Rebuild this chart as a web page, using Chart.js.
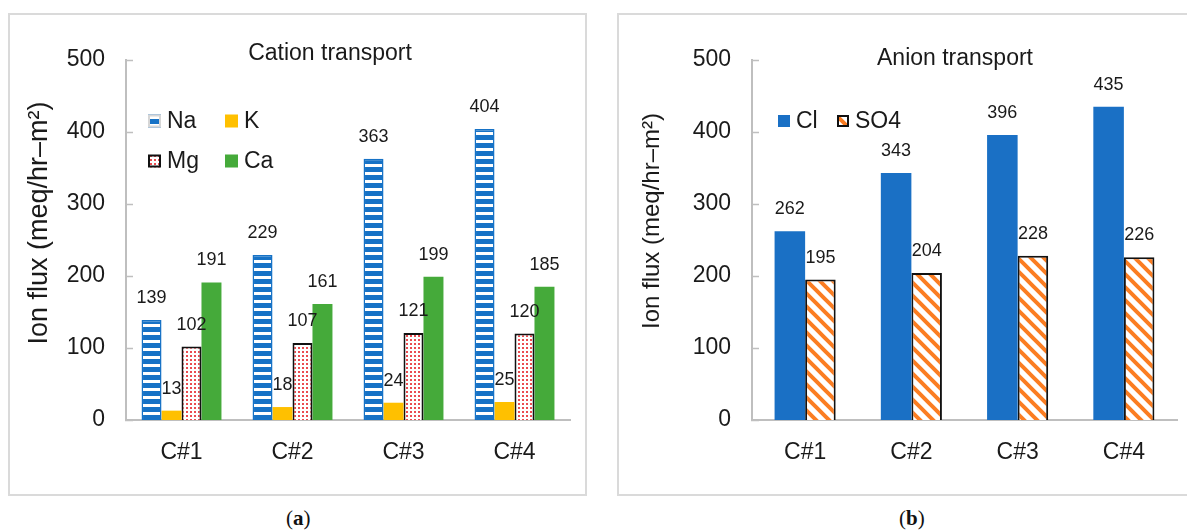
<!DOCTYPE html>
<html>
<head>
<meta charset="utf-8">
<script src="https://cdn.jsdelivr.net/npm/chart.js@4"></script>
<style>
  body { margin: 0; background: #fff; font-family: "Liberation Sans", Arial, sans-serif; }
  .box { position: absolute; border: 2px solid #dadada; }
  .box canvas { position: absolute; left: 0; top: 0; }
  .cap { position: absolute; font-family: "Liberation Serif", "Times New Roman", serif; font-size: 21px; color: #111; }
</style>
</head>
<body>
<div class="box" id="boxA" style="left:8px; top:13px; width:575px; height:479px;"><canvas id="chartA" width="575" height="479"></canvas></div>
<div class="box" id="boxB" style="left:617px; top:13px; width:580px; height:479px;"><canvas id="chartB" width="568" height="479"></canvas></div>
<div class="cap" style="left:286px; top:506px;">(<b>a</b>)</div>
<div class="cap" style="left:899px; top:506px;">(<b>b</b>)</div>

<script>
// data
var categories = ['C#1', 'C#2', 'C#3', 'C#4'];
var naValues = [139, 229, 363, 404];
var kValues = [13, 18, 24, 25];
var mgValues = [102, 107, 121, 120];
var caValues = [191, 161, 199, 185];
var clValues = [262, 343, 396, 435];
var so4Values = [195, 204, 228, 226];
var yTicks = [0, 100, 200, 300, 400, 500];

Chart.defaults.font.family = '"Liberation Sans", Arial, sans-serif';
Chart.defaults.color = '#1a1a1a';

// fill patterns
function makePattern(w, h, draw) {
  var c = document.createElement('canvas');
  c.width = w; c.height = h;
  var g = c.getContext('2d');
  draw(g, w, h);
  return c.getContext('2d').createPattern(c, 'repeat');
}
var naFill = makePattern(8, 8, function (g) {
  g.fillStyle = '#1672c6'; g.fillRect(0, 0, 8, 5);
  g.fillStyle = '#ffffff'; g.fillRect(0, 5, 8, 3);
});
var mgFill = makePattern(4, 4, function (g) {
  g.fillStyle = '#ffffff'; g.fillRect(0, 0, 4, 4);
  g.fillStyle = '#ea4c50';
  g.fillRect(0, 0, 2, 2);
});
var so4Fill = makePattern(13, 13, function (g) {
  g.fillStyle = '#ffffff'; g.fillRect(0, 0, 13, 13);
  g.strokeStyle = '#fb7d22'; g.lineWidth = 4;
  g.beginPath();
  g.moveTo(-3, -3); g.lineTo(16, 16);
  g.moveTo(-3, 10); g.lineTo(3, 16);
  g.moveTo(10, -3); g.lineTo(16, 3);
  g.stroke();
});

// value labels above every bar
var barLabels = {
  id: 'barLabels',
  afterDatasetsDraw: function (chart) {
    var ctx = chart.ctx;
    ctx.save();
    ctx.font = '18px "Liberation Sans", Arial';
    ctx.fillStyle = '#1a1a1a';
    ctx.textAlign = 'center';
    ctx.textBaseline = 'middle';
    chart.data.datasets.forEach(function (ds, i) {
      chart.getDatasetMeta(i).data.forEach(function (bar, j) {
        ctx.fillText(String(ds.data[j]), bar.x, bar.y - 22);
      });
    });
    ctx.restore();
  }
};

// Excel style inside tick marks on the y axis
var innerTicks = {
  id: 'innerTicks',
  afterDraw: function (chart) {
    var s = chart.scales.y, ctx = chart.ctx;
    ctx.save();
    ctx.strokeStyle = '#bfbfbf';
    ctx.lineWidth = 1.5;
    s.ticks.forEach(function (t) {
      var y = Math.round(s.getPixelForValue(t.value)) + 0.5;
      ctx.beginPath();
      ctx.moveTo(s.right - 1, y);
      ctx.lineTo(s.right + 7, y);
      ctx.stroke();
    });
    ctx.restore();
  }
};

// title, rotated y title and the little legend inside the plot
var decor = {
  id: 'decor',
  afterDraw: function (chart, args, opts) {
    var ctx = chart.ctx;
    ctx.save();
    ctx.fillStyle = '#1a1a1a';
    ctx.textBaseline = 'middle';

    ctx.font = opts.titleSize + 'px "Liberation Sans", Arial';
    ctx.textAlign = 'center';
    ctx.fillText(opts.title, opts.titleX, opts.titleY);

    ctx.save();
    ctx.translate(opts.yTitleX, opts.yTitleY);
    ctx.rotate(-Math.PI / 2);
    ctx.font = opts.yTitleSize + 'px "Liberation Sans", Arial';
    ctx.fillText('Ion flux (meq/hr\u2013m\u00b2)', 0, 0);
    ctx.restore();

    ctx.font = opts.legendSize + 'px "Liberation Sans", Arial';
    ctx.textAlign = 'left';
    opts.legend.forEach(function (it) {
      var ds = chart.data.datasets[it.index];
      var b = it.box;
      ctx.fillStyle = ds.backgroundColor;
      ctx.fillRect(it.x, it.y - b / 2, b, b);
      if (ds.borderWidth) {
        ctx.strokeStyle = ds.legendStroke || ds.borderColor;
        ctx.lineWidth = 2;
        ctx.strokeRect(it.x + 1, it.y - b / 2 + 1, b - 2, b - 2);
      }
      ctx.fillStyle = '#1a1a1a';
      ctx.fillText(ds.label, it.x + b + 6, it.y + 1);
    });
    ctx.restore();
  }
};

function axes(leftWidth, tickPad, tickSize, catSize) {
  return {
    x: {
      grid: { display: false, drawTicks: false },
      border: { display: true, color: '#bfbfbf', width: 2 },
      ticks: { padding: 19, font: { size: catSize }, color: '#1a1a1a' },
      afterFit: function (s) { s.height = 74; }
    },
    y: {
      min: 0, max: 500,
      grid: { display: false, drawTicks: false },
      border: { display: true, color: '#bfbfbf', width: 2 },
      afterBuildTicks: function (s) { s.ticks = yTicks.map(function (v) { return { value: v }; }); },
      ticks: { padding: tickPad, font: { size: tickSize }, color: '#1a1a1a' },
      afterFit: function (s) { s.width = leftWidth; }
    }
  };
}

new Chart(document.getElementById('chartA'), {
  type: 'bar',
  data: {
    labels: categories,
    datasets: [
      { label: 'Na', data: naValues, backgroundColor: naFill, borderColor: '#1672c6', borderWidth: 1.5, legendStroke: '#d6d6d6' },
      { label: 'K', data: kValues, backgroundColor: '#ffc000', borderWidth: 0 },
      { label: 'Mg', data: mgValues, backgroundColor: mgFill, borderColor: '#111111', borderWidth: 2 },
      { label: 'Ca', data: caValues, backgroundColor: '#45aa3a', borderWidth: 0 }
    ]
  },
  options: {
    responsive: false,
    animation: false,
    layout: { padding: { left: 0, right: 15, top: 45, bottom: 0 } },
    datasets: { bar: { categoryPercentage: 0.72, barPercentage: 1 } },
    scales: axes(116, 21, 23, 23),
    plugins: {
      legend: { display: false },
      tooltip: { enabled: false },
      decor: {
        title: 'Cation transport', titleX: 320, titleY: 39, titleSize: 23,
        yTitleX: 30, yTitleY: 208, yTitleSize: 27,
        legendSize: 23,
        legend: [
          { index: 0, x: 138, y: 106, box: 13 },
          { index: 1, x: 215, y: 106, box: 13 },
          { index: 2, x: 138, y: 146, box: 13 },
          { index: 3, x: 215, y: 146, box: 13 }
        ]
      }
    }
  },
  plugins: [barLabels, innerTicks, decor]
});

new Chart(document.getElementById('chartB'), {
  type: 'bar',
  data: {
    labels: categories,
    datasets: [
      { label: 'Cl', data: clValues, backgroundColor: '#1a70c5', borderWidth: 0 },
      { label: 'SO4', data: so4Values, backgroundColor: so4Fill, borderColor: '#111111', borderWidth: 2 }
    ]
  },
  options: {
    responsive: false,
    animation: false,
    layout: { padding: { left: 0, right: 10, top: 45, bottom: 0 } },
    datasets: { bar: { categoryPercentage: 0.575, barPercentage: 1 } },
    scales: axes(133, 21, 23, 23),
    plugins: {
      legend: { display: false },
      tooltip: { enabled: false },
      decor: {
        title: 'Anion transport', titleX: 336, titleY: 44, titleSize: 23,
        yTitleX: 33, yTitleY: 206, yTitleSize: 24,
        legendSize: 23,
        legend: [
          { index: 0, x: 159, y: 106, box: 12 },
          { index: 1, x: 218, y: 106, box: 12 }
        ]
      }
    }
  },
  plugins: [barLabels, innerTicks, decor]
});
</script>
</body>
</html>
